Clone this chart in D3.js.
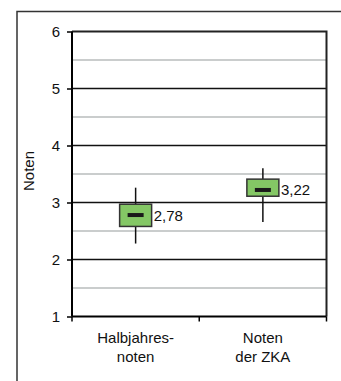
<!DOCTYPE html>
<html><head><meta charset="utf-8">
<script src="https://cdn.jsdelivr.net/npm/d3@7"></script>
<style>body{margin:0;background:#fff;} svg{display:block;font-family:"Liberation Sans",Arial,sans-serif;}</style>
</head><body>
<script>
const categories = [["Halbjahres-","noten"],["Noten","der ZKA"]];
const mins = [2.28, 2.66];
const q1s = [2.58, 3.11];
const medians = [2.78, 3.22];
const q3s = [2.97, 3.41];
const maxs = [3.26, 3.60];
const labels = ["2,78","3,22"];
const yTicks = [1,2,3,4,5,6];
const yMinor = [1.5,2.5,3.5,4.5,5.5];

const W=341,H=381;
const svg=d3.select("body").append("svg").attr("width",W).attr("height",H);
// outer frame
svg.append("path").attr("d","M17,381V11.5H341").attr("fill","none").attr("stroke","#333").attr("stroke-width",1.5);

const L=72,R=326.5,T=31.5,B=316.5;
const x=d3.scaleBand().domain(d3.range(categories.length)).range([L,R]);
const y=d3.scaleLinear().domain([1,6]).range([B,T]);

const g=svg.append("g");
g.selectAll(".minor").data(yMinor).join("line")
 .attr("x1",L).attr("x2",R).attr("y1",d=>y(d)).attr("y2",d=>y(d))
 .attr("stroke","#b8bcbc").attr("stroke-width",1.5);
g.selectAll(".major").data(yTicks.filter(d=>d>1&&d<6)).join("line")
 .attr("x1",L).attr("x2",R).attr("y1",d=>y(d)).attr("y2",d=>y(d))
 .attr("stroke","#111").attr("stroke-width",1.5);
// frame top/right
g.append("path").attr("d",`M${L},${T}H${R}V${B}`).attr("fill","none").attr("stroke","#222").attr("stroke-width",2);

// y axis
const ya=svg.append("g").attr("transform",`translate(${L},0)`)
 .call(d3.axisLeft(y).tickValues(yTicks).tickSize(5).tickPadding(7).tickFormat(d3.format("d")));
ya.select(".domain").attr("stroke","#000").attr("stroke-width",2).attr("d",`M0,${T}V${B}`);
ya.selectAll(".tick line").attr("stroke","#000").attr("stroke-width",1.5);
ya.selectAll("text").attr("font-size",15).attr("fill","#111").attr("font-family","Liberation Sans, Arial");

// x axis
const xa=svg.append("g").attr("transform",`translate(0,${B})`);
xa.append("path").attr("d",`M${L},0H${R}`).attr("stroke","#000").attr("stroke-width",2);
const bounds=[L, ...d3.range(1,categories.length+1).map(i=>x(i-1)+x.bandwidth())];
xa.selectAll(".xt").data(bounds).join("line").attr("x1",d=>d).attr("x2",d=>d).attr("y1",0).attr("y2",5)
 .attr("stroke","#000").attr("stroke-width",1.5);
categories.forEach((c,i)=>{
  const t=xa.append("text").attr("x",x(i)+x.bandwidth()/2).attr("text-anchor","middle")
   .attr("font-size",15).attr("fill","#111");
  c.forEach((s,j)=>t.append("tspan").attr("x",x(i)+x.bandwidth()/2).attr("y",26+j*19).text(s));
});

svg.append("text").attr("transform","translate(34,171) rotate(-90)").attr("text-anchor","middle")
 .attr("font-size",15).attr("fill","#111").text("Noten");

// boxes
const bw=32;
categories.forEach((c,i)=>{
  const cx=x(i)+x.bandwidth()/2;
  svg.append("line").attr("x1",cx).attr("x2",cx).attr("y1",y(maxs[i])).attr("y2",y(q3s[i])).attr("stroke","#111").attr("stroke-width",1.5);
  svg.append("line").attr("x1",cx).attr("x2",cx).attr("y1",y(q1s[i])).attr("y2",y(mins[i])).attr("stroke","#111").attr("stroke-width",1.5);
  svg.append("rect").attr("x",cx-bw/2).attr("y",y(q3s[i])).attr("width",bw).attr("height",y(q1s[i])-y(q3s[i]))
   .attr("fill","#84c765").attr("stroke","#333").attr("stroke-width",1.5);
  svg.append("rect").attr("x",cx-8).attr("y",y(medians[i])-2).attr("width",16).attr("height",4).attr("fill","#1a1a1a");
  svg.append("text").attr("x",cx+bw/2+2).attr("y",y(medians[i])+5.5).attr("font-size",15).attr("fill","#111").text(labels[i]);
});
</script>
</body></html>
